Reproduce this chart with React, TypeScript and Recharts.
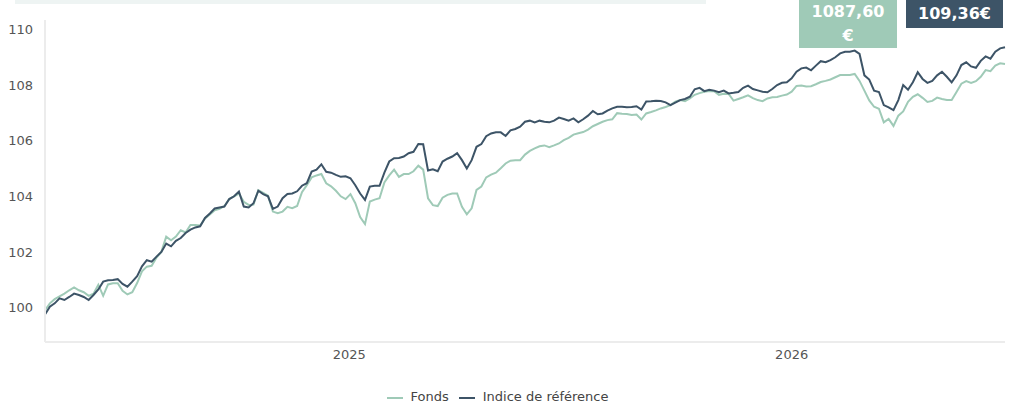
import React from 'react';
import { LineChart, Line, XAxis, YAxis, Legend } from 'recharts';

// one point every 4 days, starting 25 April 2024
const START = Date.UTC(2024, 3, 25);
const STEP = 4 * 86400000;

const YEAR_TICKS = [Date.UTC(2025, 0, 1), Date.UTC(2026, 0, 1)];
const VALUE_TICKS = [100, 102, 104, 106, 108, 110];

const fonds = [
  99.9, 100.15, 100.3, 100.4, 100.5, 100.62, 100.72, 100.62, 100.55, 100.42,
  100.5, 100.82, 100.42, 100.83, 100.87, 100.87, 100.6, 100.47, 100.55, 100.88,
  101.3, 101.47, 101.5, 101.8, 102.0, 102.55, 102.42, 102.55, 102.78, 102.7,
  102.97, 102.97, 102.95, 103.2, 103.35, 103.5, 103.55, 103.65, 103.9, 104.0,
  104.1, 103.8, 103.69, 103.7, 104.22, 104.12, 104.02, 103.45, 103.39, 103.45,
  103.62, 103.57, 103.65, 104.15, 104.4, 104.68, 104.75, 104.8, 104.47, 104.36,
  104.2, 104.0, 103.9, 104.08, 103.75, 103.25, 103.0, 103.81, 103.88, 103.93,
  104.5, 104.75, 104.96, 104.7, 104.8, 104.8, 104.9, 105.1, 104.96, 103.93,
  103.68, 103.65, 103.95, 104.05, 104.1, 104.1, 103.62, 103.35, 103.57, 104.23,
  104.35, 104.68, 104.78, 104.85, 105.01, 105.18, 105.28, 105.3, 105.3, 105.5,
  105.63, 105.72, 105.8, 105.83, 105.77, 105.83, 105.9, 106.02, 106.1, 106.22,
  106.27, 106.31, 106.4, 106.52, 106.6, 106.68, 106.74, 106.77, 106.99, 106.97,
  106.96, 106.92, 106.94, 106.76, 106.98, 107.03, 107.09, 107.16, 107.21, 107.28,
  107.4, 107.46, 107.42, 107.52, 107.65, 107.71, 107.76, 107.79, 107.78, 107.65,
  107.69, 107.68, 107.44, 107.5, 107.56, 107.63, 107.53, 107.46, 107.42, 107.52,
  107.56, 107.57, 107.62, 107.66, 107.76, 107.97, 107.98, 107.95, 107.96, 108.03,
  108.11, 108.15, 108.2, 108.28, 108.36, 108.36, 108.36, 108.4, 108.15, 107.8,
  107.45, 107.22, 107.15, 106.66, 106.78, 106.53, 106.9, 107.05, 107.4, 107.58,
  107.67, 107.54, 107.39, 107.43, 107.55, 107.5, 107.46, 107.46, 107.75, 108.05,
  108.14, 108.08, 108.14, 108.3, 108.54, 108.5, 108.7, 108.78, 108.76,
];

const indice = [
  99.75, 100.03, 100.15, 100.33, 100.27, 100.38, 100.5, 100.45, 100.38, 100.27,
  100.45, 100.65, 100.93, 100.98, 100.99, 101.02, 100.85, 100.75, 100.93, 101.13,
  101.48, 101.7, 101.65, 101.83, 102.0, 102.3, 102.2, 102.4, 102.5, 102.68,
  102.8, 102.88, 102.92, 103.22, 103.38, 103.56, 103.6, 103.63, 103.9, 104.0,
  104.17, 103.63, 103.6, 103.75, 104.2, 104.08, 104.0, 103.55, 103.63, 103.93,
  104.08, 104.1, 104.18, 104.38, 104.47, 104.89, 104.96, 105.15, 104.88, 104.85,
  104.77, 104.7, 104.72, 104.65, 104.4, 104.1, 103.87, 104.35, 104.38, 104.38,
  104.85, 105.25, 105.37, 105.38, 105.43, 105.55, 105.6, 105.88, 105.87, 104.93,
  104.97, 104.9, 105.25, 105.35, 105.43, 105.55, 105.3, 105.0, 105.3, 105.78,
  105.88, 106.16, 106.26, 106.3, 106.3, 106.17, 106.37, 106.42, 106.5, 106.68,
  106.72, 106.66, 106.72, 106.68, 106.66, 106.72, 106.83, 106.78, 106.72, 106.8,
  106.66, 106.77, 106.9, 107.07, 106.95, 106.98, 107.08, 107.16, 107.22, 107.22,
  107.2, 107.21, 107.24, 107.12, 107.41, 107.42, 107.44, 107.43, 107.38, 107.28,
  107.37, 107.46, 107.5, 107.58, 107.85, 107.9, 107.78, 107.83, 107.8, 107.74,
  107.8, 107.7, 107.72, 107.75, 107.9, 107.98, 107.86, 107.81, 107.76, 107.74,
  107.86, 108.0, 108.08, 108.1, 108.24, 108.48, 108.6, 108.63, 108.53, 108.7,
  108.86, 108.82, 108.9, 109.0, 109.14, 109.2, 109.2, 109.24, 109.12, 108.35,
  108.2, 107.8, 107.75, 107.28, 107.2, 107.1, 107.46, 108.0, 107.83, 108.1,
  108.46, 108.22, 108.08, 108.15, 108.35, 108.48, 108.3, 108.1, 108.35, 108.72,
  108.82, 108.67, 108.62, 108.87, 109.03, 108.95, 109.2, 109.32, 109.36,
];

const FONDS_LABEL = '1087,60 €';
const INDICE_LABEL = '109,36€';

const GREEN = '#9fcab7';
const DARK = '#3d5467';
const AXIS = '#ececec';

const data = indice.map((v, i) => ({ t: START + i * STEP, fonds: fonds[i], indice: v }));

const badge: React.CSSProperties = {
  position: 'absolute',
  top: 0,
  color: '#fff',
  fontWeight: 700,
  fontSize: 16,
  lineHeight: '24px',
  textAlign: 'center',
};

export default function App() {
  return (
    <div
      style={{
        position: 'absolute',
        left: 0,
        top: 0,
        width: 1011,
        height: 408,
        fontFamily: '"DejaVu Sans", sans-serif',
        background: '#fff',
      }}
    >
      <div style={{ position: 'absolute', left: 15, top: 0, width: 691, height: 4, background: '#eef4f3' }} />
      <LineChart
        width={1011}
        height={408}
        data={data}
        margin={{ top: 20, right: 6, bottom: 0, left: 0 }}
      >
        <XAxis
          type="number"
          dataKey="t"
          domain={['dataMin', 'dataMax']}
          ticks={YEAR_TICKS}
          tickFormatter={(v) => String(new Date(v).getUTCFullYear())}
          axisLine={{ stroke: AXIS, strokeWidth: 2 }}
          tickLine={false}
          tick={{ fill: '#555', fontSize: 13 }}
          height={44}
        />
        <YAxis
          domain={[98.76, 110.34]}
          ticks={VALUE_TICKS}
          allowDataOverflow
          axisLine={{ stroke: AXIS, strokeWidth: 2 }}
          tickLine={false}
          tickMargin={6}
          tick={{ fill: '#555', fontSize: 13 }}
          width={45}
        />
        <Legend
          verticalAlign="bottom"
          height={22}
          iconType="plainline"
          iconSize={16}
          wrapperStyle={{ fontSize: 13, lineHeight: '22px' }}
          formatter={(value) => <span style={{ color: '#444', marginLeft: 4 }}>{value}</span>}
        />
        <Line
          type="linear"
          dataKey="fonds"
          name="Fonds"
          stroke={GREEN}
          strokeWidth={2}
          dot={false}
          activeDot={false}
          isAnimationActive={false}
        />
        <Line
          type="linear"
          dataKey="indice"
          name="Indice de référence"
          stroke={DARK}
          strokeWidth={2}
          dot={false}
          activeDot={false}
          isAnimationActive={false}
        />
      </LineChart>
      <div style={{ ...badge, left: 799, width: 98, height: 48, background: GREEN, whiteSpace: 'pre-line' }}>
        {FONDS_LABEL.replace(' ', '\n')}
      </div>
      <div style={{ ...badge, left: 906, width: 97, height: 28, lineHeight: '28px', background: DARK }}>
        {INDICE_LABEL}
      </div>
    </div>
  );
}
